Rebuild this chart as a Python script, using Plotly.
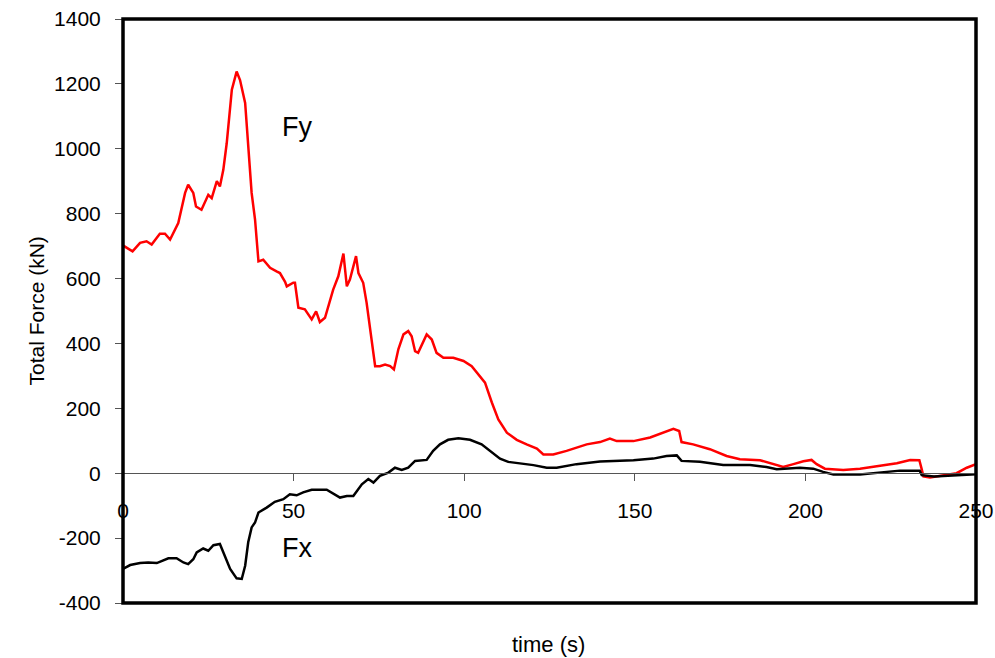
import plotly.graph_objects as go

# Fy (red) readings
fy_t = [0, 0.3, 2.8, 5, 6.9, 8.4, 10.8, 12.3, 13.8, 16.2, 18.2, 19.1, 20.6, 21.4, 23, 25, 26, 27.5, 28.4,
        29.4, 30.4, 31.9, 33.3, 34.3, 35.8, 36.8, 37.7, 38.7, 39.7, 41.1, 43.1, 45, 46, 47.5, 48, 49.9, 50.4,
        51.4, 53.3, 55.3, 56.6, 57.7, 59.2, 61.6, 63.1, 64.6, 65.6, 66.5, 68.3, 69, 70.4, 71.4, 72.9, 73.9,
        75.3, 76.8, 78.3, 79.4, 80.7, 82.2, 83.6, 84.6, 85.6, 86.5, 89, 90.5, 91.9, 93.9, 96.8, 99.8, 102.2,
        104.1, 106.1, 108.1, 110, 112.5, 115.4, 118.3, 121.3, 123.2, 126.1, 130, 135.9, 139.8, 142.7, 144.7,
        149.6, 154.5, 158.4, 161.3, 163, 163.7, 167.1, 172, 176.9, 180.8, 186.7, 190.6, 193.5, 196.5, 199.4,
        201.8, 203.3, 205.7, 211.1, 216, 220.9, 226.8, 230.7, 233.4, 234.1, 234.6, 236.5, 240.4, 244.3,
        247.3, 250]
fy_v = [700, 700, 684, 710, 715, 705, 738, 738, 720, 771, 864, 889, 864, 822, 812, 858, 848, 900, 884,
        935, 1017, 1182, 1238, 1212, 1141, 1007, 864, 782, 653, 658, 633, 622, 617, 590, 576, 587, 587,
        510, 505, 474, 499, 466, 479, 566, 607, 677, 576, 597, 669, 617, 587, 525, 402, 330,
        330, 335, 330, 320, 382, 428, 438, 422, 376, 371, 428, 412, 371, 356, 356, 346, 330,
        305, 279, 218, 166, 125, 103, 89, 76, 58, 58, 69, 89, 96, 107, 99,
        99, 110, 125, 137, 130, 96, 89, 74, 53, 43, 40, 28, 19, 28, 37,
        41, 28, 14, 10, 14, 22, 31, 41, 40, 12, -10, -13, -6, 0,
        17, 28]

# Fx (black) readings
fx_t = [0, 2.1, 5, 7.4, 9.9, 13.3, 15.7, 17.7, 19.1, 20.6, 21.6, 23.5, 25, 26.5, 28.4, 29.9, 31.4, 33.3,
        34.8, 35.8, 36.7, 37.7, 38.7, 39.7, 42.1, 44.5, 47, 48.9, 50.9, 52.8, 55.3, 57.7, 59.7, 63.6, 65.6,
        67.5, 70, 71.9, 73.4, 75.3, 77.8, 79.7, 81.7, 83.6, 85.6, 89, 90.9, 92.9, 95.3, 98.3, 101.7, 105.1,
        108.1, 110.5, 112.9, 116.4, 120.3, 124.2, 127.1, 132.9, 139.8, 149.6, 155.4, 159.3, 162.3, 163.7,
        169.1, 175.9, 183.8, 188.6, 191.6, 198.4, 202.3, 205.2, 208.2, 216, 222.8, 227.7, 233.5, 234.1,
        237.7, 243.6, 250]
fx_v = [-295, -283, -277, -275, -277, -262, -262, -275, -280, -265, -244, -232, -239, -222, -218, -254,
        -295, -324, -326, -285, -213, -167, -152, -121, -106, -88, -80, -65, -68, -59, -51, -51, -51, -75,
        -70, -70, -34, -18, -29, -8, 2, 17, 10, 17, 38, 41, 69, 89, 103, 108, 103, 89,
        66, 45, 35, 31, 25, 17, 17, 28, 36, 40, 45, 53, 55, 38,
        35, 25, 25, 19, 12, 17, 14, 4, -4, -4, 2, 8, 8, -6,
        -10, -6, -3]

x_ticks = [0, 50, 100, 150, 200, 250]
y_ticks = [-400, -200, 0, 200, 400, 600, 800, 1000, 1200, 1400]
y_tick_labels = ["-400", "-200", "0", "200", "400", "600", "800", "1000", "1200", "1400"]

font = "Liberation Sans, Arial, sans-serif"

fig = go.Figure()
fig.add_trace(go.Scatter(x=fy_t, y=fy_v, mode="lines", line=dict(color="#ff0000", width=2.5), name="Fy"))
fig.add_trace(go.Scatter(x=fx_t, y=fx_v, mode="lines", line=dict(color="#000000", width=2.5), name="Fx"))

fig.update_layout(
    width=995, height=658,
    margin=dict(l=123, r=19, t=19, b=55, autoexpand=False),
    paper_bgcolor="white", plot_bgcolor="white",
    showlegend=False,
    font=dict(family=font, size=21, color="black"),
    xaxis=dict(range=[0, 250], tickvals=x_ticks, ticks="outside", ticklen=7, tickcolor="#555",
               showgrid=False, zeroline=False, showline=True, linecolor="#555", linewidth=1,
               anchor="free", position=400 / 1800, tickfont=dict(size=21), ticklabelstandoff=12,
               ticklabeloverflow="allow", automargin=False),
    yaxis=dict(range=[-400, 1400], tickvals=y_ticks, ticktext=y_tick_labels, ticks="outside", ticklen=7,
               tickcolor="#555", showgrid=False, zeroline=False, showline=False, tickfont=dict(size=21),
               ticklabelstandoff=10, ticklabeloverflow="allow", automargin=False),
    shapes=[dict(type="rect", xref="paper", yref="paper", x0=0, x1=1, y0=0, y1=1,
                 line=dict(color="black", width=3.5), layer="above")],
    annotations=[
        dict(text="Fy", x=50.9, y=1068, xref="x", yref="y", showarrow=False, font=dict(size=27)),
        dict(text="Fx", x=50.9, y=-229, xref="x", yref="y", showarrow=False, font=dict(size=27)),
        dict(text="time (s)", x=0.499, y=-0.0719, xref="paper", yref="paper", yanchor="middle",
             showarrow=False, font=dict(size=22)),
        dict(text="Total Force (kN)", x=-0.1184, y=0.5, xref="paper", yref="paper", textangle=-90,
             showarrow=False, font=dict(size=21)),
    ],
)

fig.write_html("out.html", config={"displayModeBar": False},
               post_script="document.body.style.margin='0';document.body.style.overflow='hidden';")
